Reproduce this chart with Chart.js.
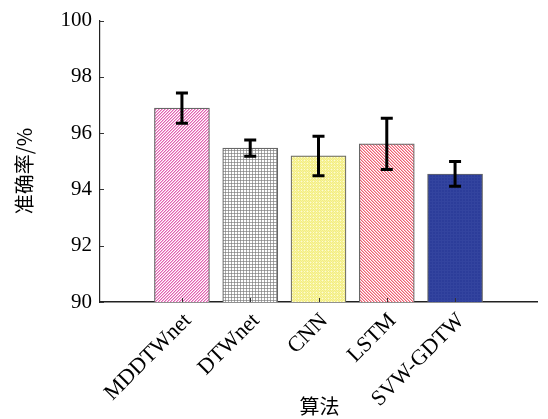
<!DOCTYPE html>
<html><head><meta charset="utf-8">
<script src="https://cdn.jsdelivr.net/npm/chart.js@4"></script>
<style>html,body{margin:0;padding:0;background:#fff}#c{display:block}</style>
</head><body>
<canvas id="c" width="548" height="419"></canvas>
<script>
const categories = ['MDDTWnet', 'DTWnet', 'CNN', 'LSTM', 'SVW-GDTW'];
const accuracy = [96.89, 95.47, 95.19, 95.62, 94.55];
const errors = [0.54, 0.29, 0.70, 0.91, 0.44];
const yTicks = [90, 92, 94, 96, 98, 100];
const xTitle = '算法';
const yTitle = '准确率/%';

const SERIF = "'Liberation Serif', 'Times New Roman', 'DejaVu Serif', serif";

function makePattern(size, fn) {
  const c = document.createElement('canvas');
  c.width = size; c.height = size;
  const g = c.getContext('2d');
  for (let x = 0; x < size; x++) for (let y = 0; y < size; y++) {
    g.fillStyle = fn(x, y); g.fillRect(x, y, 1, 1);
  }
  return g.createPattern(c, 'repeat');
}
const ctx = document.getElementById('c').getContext('2d');
const fills = [
  makePattern(6, (x, y) => { const k = (x + y) % 3; return k === 0 ? '#e062b2' : (k === 1 ? '#f2b0d8' : '#ffffff'); }),
  makePattern(6, (x, y) => (x % 3 === 0 || y % 3 === 0) ? ((x % 3 === 0 && y % 3 === 0) ? '#8a8a8a' : '#a8a8a8') : '#ffffff'),
  makePattern(6, (x, y) => (x % 3 === 1 && y % 3 === 1) ? '#fdfbd6' : ((x + y) % 2 === 0 ? '#f3ee80' : '#f7f3a2')),
  makePattern(6, (x, y) => { const k = ((x - y) % 3 + 3) % 3; return k === 0 ? '#ee5f72' : (k === 1 ? '#f8b4bc' : '#ffffff'); }),
  makePattern(6, (x, y) => (x % 3 === 0 || y % 3 === 0) ? '#33449f' : '#2c3d9a')
];

const errorBars = {
  id: 'errorBars',
  afterDatasetsDraw(chart) {
    const meta = chart.getDatasetMeta(0);
    const ys = chart.scales.y;
    const g = chart.ctx;
    g.save();
    g.strokeStyle = '#000'; g.lineWidth = 3; g.lineCap = 'butt';
    meta.data.forEach((el, i) => {
      const x = el.x;
      const t = ys.getPixelForValue(accuracy[i] + errors[i]);
      const b = ys.getPixelForValue(accuracy[i] - errors[i]);
      g.beginPath();
      g.moveTo(x, t); g.lineTo(x, b);
      g.moveTo(x - 6, t); g.lineTo(x + 6, t);
      g.moveTo(x - 6, b); g.lineTo(x + 6, b);
      g.stroke();
    });
    g.restore();
  }
};

const axisDecor = {
  id: 'axisDecor',
  afterDraw(chart) {
    const g = chart.ctx;
    const xs = chart.scales.x, ys = chart.scales.y;
    const a = chart.chartArea;
    g.save();
    g.strokeStyle = '#333'; g.lineWidth = 1;
    g.beginPath();
    categories.forEach((c, i) => {
      const px = Math.round(xs.getPixelForValue(i + 1)) + 0.5;
      g.moveTo(px, a.bottom); g.lineTo(px, a.bottom - 4);
    });
    yTicks.forEach(v => {
      const py = Math.round(ys.getPixelForValue(v)) + 0.5;
      g.moveTo(a.left, py); g.lineTo(a.left + 4, py);
    });
    g.stroke();
    g.fillStyle = '#000';
    g.font = "20px 'Noto Sans CJK SC'";
    g.textAlign = 'center'; g.textBaseline = 'middle';
    g.fillText(xTitle, (a.left + a.right) / 2 + 1, 406);
    g.translate(24, 171);
    g.rotate(-Math.PI / 2);
    g.fillText(yTitle, 0, 0);
    g.restore();
  }
};

function build() {
  new Chart(ctx, {
    type: 'bar',
    data: {
      datasets: [{
        data: categories.map((c, i) => ({ x: i + 1, y: accuracy[i] })),
        backgroundColor: fills,
        borderColor: '#666',
        borderWidth: 1.2,
        barThickness: 55
      }]
    },
    options: {
      responsive: false,
      animation: false,
      devicePixelRatio: 1,
      layout: { padding: { top: 15, right: 11, left: 0, bottom: 0 } },
      plugins: { legend: { display: false }, tooltip: { enabled: false } },
      scales: {
        x: {
          type: 'linear',
          offset: false,
          min: -0.2, max: 6.2,
          afterBuildTicks: s => { s.ticks = categories.map((c, i) => ({ value: i + 1 })); },
          afterFit: s => { s.height = 117; },
          grid: { display: false, drawTicks: false, offset: false },
          border: { display: true, color: '#222', width: 1.5 },
          ticks: {
            autoSkip: false,
            minRotation: 45, maxRotation: 45,
            padding: 6,
            labelOffset: 6,
            color: '#000',
            font: { family: SERIF, size: 22 },
            callback: v => categories[Math.round(v) - 1] || ''
          }
        },
        y: {
          min: 90, max: 100,
          afterBuildTicks: s => { s.ticks = yTicks.map(v => ({ value: v })); },
          afterFit: s => { s.width = 100; },
          grid: { display: false, drawTicks: false },
          border: { display: true, color: '#222', width: 1.2 },
          ticks: {
            padding: 8,
            color: '#000',
            font: { family: SERIF, size: 21 }
          }
        }
      }
    },
    plugins: [errorBars, axisDecor]
  });
}
Promise.all([
  document.fonts.load("21px 'Liberation Serif'"),
  document.fonts.load("20px 'Noto Sans CJK SC'", '算法准确率')
]).then(build, build);
</script>
</body></html>
